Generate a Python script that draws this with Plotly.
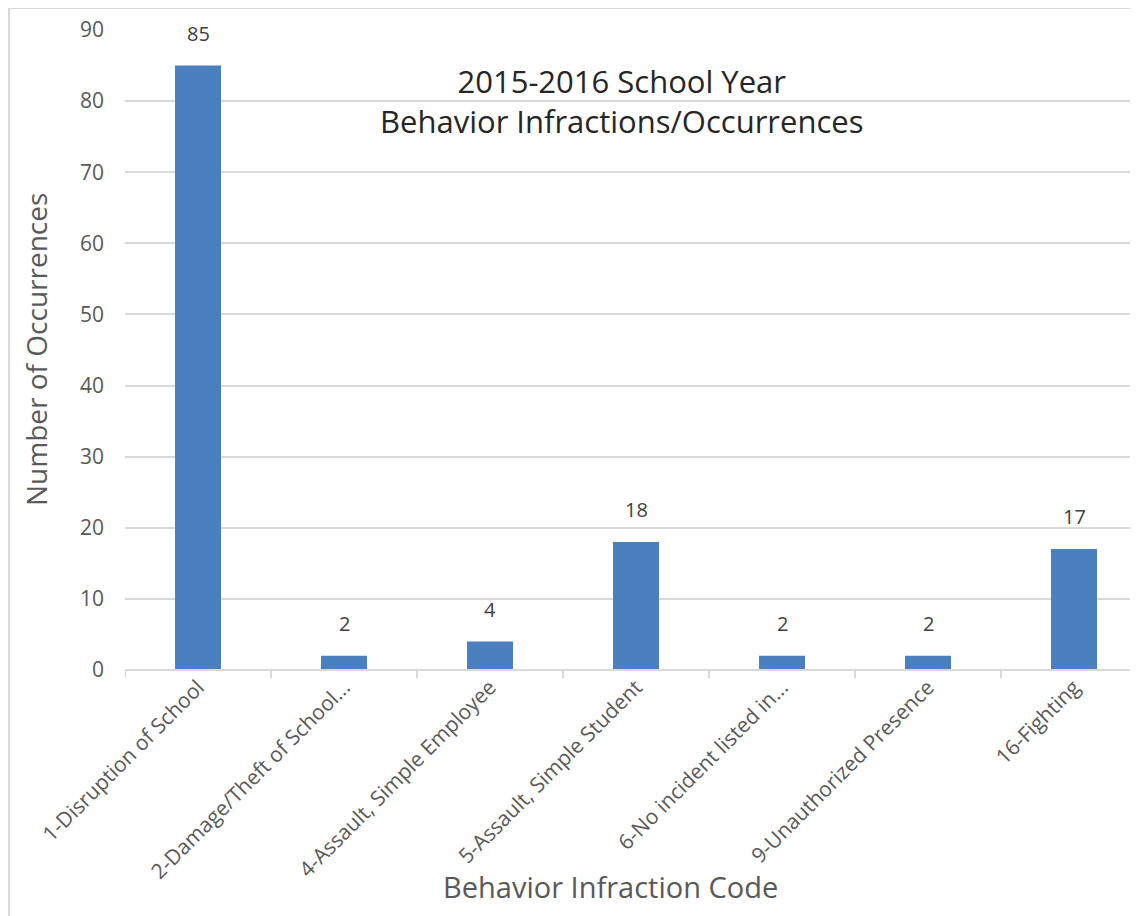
import plotly.graph_objects as go

categories = [
    "1-Disruption of School",
    "2-Damage/Theft of School...",
    "4-Assault, Simple Employee",
    "5-Assault, Simple Student",
    "6-No incident listed in...",
    "9-Unauthorized Presence",
    "16-Fighting",
]
occurrences = [85, 2, 4, 18, 2, 2, 17]
y_ticks = [0, 10, 20, 30, 40, 50, 60, 70, 80, 90]

FONT = "Open Sans, Liberation Sans, sans-serif"
GREY = "#595959"

OFF = 8  # page body margin
W, H = 1138 - OFF, 916 - OFF
# plot area in reference (screen) pixels
PL, PR, PT, PB = 125, 1138, 30, 670
L, T = PL - OFF, PT - OFF
R = W - (PR - OFF)
B = H - (PB - OFF)
pw, ph = W - L - R, H - T - B
CAT_PX = 146.0

def sx(px):
    return (px - PL) / pw

def sy(py):
    return (PB - py) / ph

xpos = list(range(len(categories)))

fig = go.Figure()
fig.add_trace(go.Bar(
    x=xpos,
    y=occurrences,
    width=0.315,
    marker=dict(color="#4A80BD", line=dict(width=0)),
    hoverinfo="x+y",
))

fig.update_layout(
    width=W, height=H,
    margin=dict(l=L, r=R, t=T, b=B, pad=0),
    paper_bgcolor="white", plot_bgcolor="white",
    showlegend=False,
    font=dict(family=FONT, color=GREY),
    xaxis=dict(
        range=[-0.5, -0.5 + pw / CAT_PX],
        tickmode="array",
        tickvals=xpos,
        ticktext=categories,
        tickangle=-45,
        tickfont=dict(size=21, color=GREY, family=FONT),
        showgrid=False,
        showline=False,
        zeroline=False,
        ticks="",
    ),
    yaxis=dict(
        range=[0, 90],
        tickvals=y_ticks,
        tickfont=dict(size=21, color=GREY, family=FONT),
        showgrid=True, gridcolor="#D9D9D9", gridwidth=2,
        zeroline=False,
        showline=False,
        ticks="",
        ticklabelstandoff=20,
    ),
)

shapes = [dict(type="line", xref="paper", yref="paper", x0=0, x1=1,
               y0=0, y1=0, line=dict(color="#D9D9D9", width=2))]
for i in range(len(categories) + 1):
    xb = i - 0.5
    shapes.append(dict(type="line", xref="x", yref="paper", x0=xb, x1=xb,
                       y0=0, y1=-8 / ph, line=dict(color="#D9D9D9", width=2)))
# outer chart border (left and top)
shapes.append(dict(type="line", xref="paper", yref="paper",
                   x0=sx(9), x1=sx(9), y0=sy(8), y1=sy(H + OFF + 5),
                   line=dict(color="#D9D9D9", width=2)))
shapes.append(dict(type="line", xref="paper", yref="paper",
                   x0=sx(9), x1=sx(W + OFF + 5), y0=sy(8), y1=sy(8),
                   line=dict(color="#D9D9D9", width=2)))
fig.update_layout(shapes=shapes)

annotations = [
    dict(text="2015-2016 School Year<br>Behavior Infractions/Occurrences",
         xref="paper", yref="paper", x=sx(621), y=sy(101),
         xanchor="center", yanchor="middle", showarrow=False,
         font=dict(size=31, color="#262626", family=FONT)),
    dict(text="Behavior Infraction Code",
         xref="paper", yref="paper", x=sx(610), y=sy(886),
         xanchor="center", yanchor="middle", showarrow=False,
         font=dict(size=29, color=GREY, family=FONT)),
    dict(text="Number of Occurrences",
         xref="paper", yref="paper", x=sx(36), y=sy(350),
         xanchor="center", yanchor="middle", showarrow=False, textangle=-90,
         font=dict(size=28, color=GREY, family=FONT)),
]
for xv, v in zip(xpos, occurrences):
    annotations.append(dict(
        text=str(v), x=xv, y=v, xref="x", yref="y",
        xanchor="center", yanchor="bottom", yshift=17, showarrow=False,
        font=dict(size=20, color="#404040", family=FONT)))
fig.update_layout(annotations=annotations)

fig.write_html("out.html")
